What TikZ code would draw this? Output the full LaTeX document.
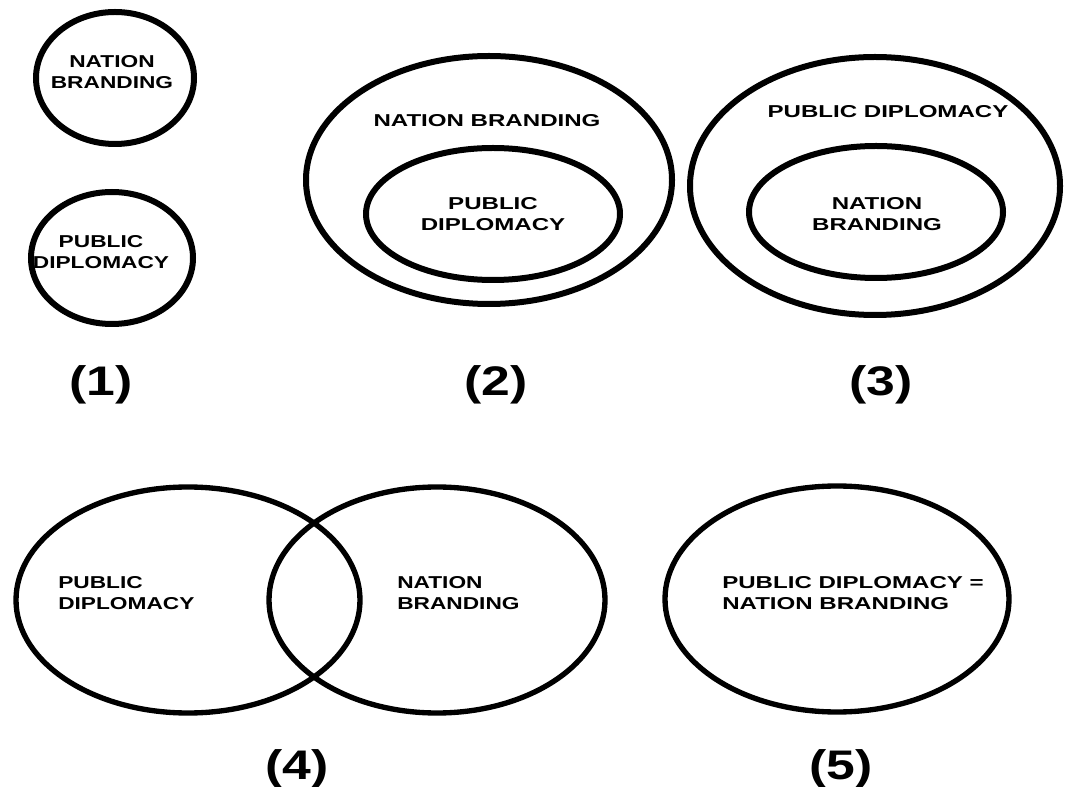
\documentclass[tikz,border=0pt]{standalone}
\usepackage{fontspec}
\newfontfamily\lab[FakeStretch=1.4]{Liberation Sans}
\newfontfamily\labn[FakeStretch=1.32]{Liberation Sans}
\newfontfamily\numfont[FakeStretch=1.25]{Liberation Sans}
\begin{document}
\begin{tikzpicture}[x=0.75pt,y=-0.75pt]
\useasboundingbox[fill=white] (0,0) rectangle (1067,787);
\tikzset{
  ring/.style={line width=4.5pt},
  thinring/.style={line width=4pt},
  txt/.style={font=\lab\bfseries\fontsize{12.9}{15.75}\selectfont, align=center, inner sep=0pt},
  ntxt/.style={txt, font=\labn\bfseries\fontsize{12.9}{15.75}\selectfont},
  ltxt/.style={ntxt, align=left, anchor=west},
  num/.style={font=\numfont\bfseries\fontsize{31}{36}\selectfont, inner sep=0pt}
}
% (1)
\draw[ring] (115,78) ellipse [x radius=79, y radius=66];
\node[ntxt] (t1a) at (112,72) {NATION\\BRANDING};
\draw[ring] (112,258) ellipse [x radius=81, y radius=66];
\node[ntxt] (t1b) at (101,252) {PUBLIC\\DIPLOMACY};
\node[num] (n1) at (101,385) {(1)};
% (2)
\draw[ring] (489,180) ellipse [x radius=183, y radius=124];
\draw[ring] (493,214) ellipse [x radius=127, y radius=66];
\node[txt] (t2a) at (487,121) {NATION BRANDING};
\node[txt] (t2b) at (493,214) {PUBLIC\\DIPLOMACY};
\node[num] (n2) at (496,385) {(2)};
% (3)
\draw[ring] (875,186) ellipse [x radius=185, y radius=129];
\draw[ring] (876,212) ellipse [x radius=127, y radius=66];
\node[txt] (t3a) at (888,112) {PUBLIC DIPLOMACY};
\node[txt] (t3b) at (877,214) {NATION\\BRANDING};
\node[num] (n3) at (881,385) {(3)};
% (4)
\draw[thinring] (188,600) ellipse [x radius=172, y radius=113];
\draw[thinring] (437,600) ellipse [x radius=168, y radius=113];
\node[ltxt] (t4a) at (58,593) {PUBLIC\\DIPLOMACY};
\node[ltxt] (t4b) at (397,593) {NATION\\BRANDING};
\node[num] (n4) at (297,769) {(4)};
% (5)
\draw[thinring] (837,599) ellipse [x radius=172, y radius=113];
\node[txt, align=left, anchor=west] (t5) at (722,593) {PUBLIC DIPLOMACY =\\NATION BRANDING};
\node[num] (n5) at (841,769) {(5)};
\end{tikzpicture}
\end{document}
